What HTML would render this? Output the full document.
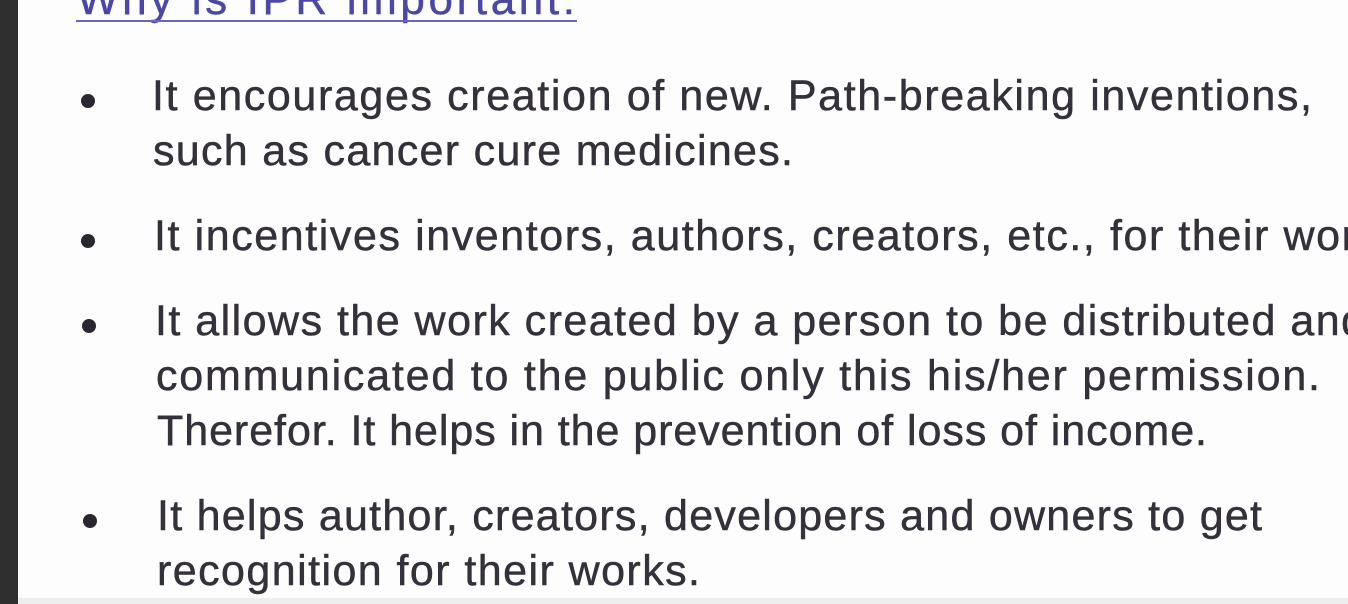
<!DOCTYPE html>
<html><head><meta charset="utf-8"><style>
html,body{margin:0;padding:0;width:1348px;height:604px;overflow:hidden;background:#fff}
svg{display:block}
text{font-family:"Liberation Sans",sans-serif;fill:#35313b;stroke:#35313b;stroke-width:0.5}
</style></head><body>
<svg width="1348" height="604">
<rect x="0" y="0" width="1348" height="604" fill="#fdfdfd"/>
<rect x="0" y="0" width="18" height="604" fill="#2f2f2f"/>
<rect x="18" y="598" width="1330" height="6" fill="#eeeeee"/>
<g>
<text x="77" y="14" font-size="44" style="fill:#4b47a6;stroke:#4b47a6" textLength="498" lengthAdjust="spacing">Why is IPR important:</text>
<rect x="76" y="20" width="501" height="2" fill="#6a66c0"/>
</g>
<g fill="#2b2730">
<circle cx="88" cy="101" r="7"/>
<circle cx="88" cy="241" r="7"/>
<circle cx="89" cy="326" r="7"/>
<circle cx="90" cy="521" r="7"/>
</g>
<g font-size="43">
<text x="152" y="110" textLength="1160" lengthAdjust="spacing">It encourages creation of new. Path-breaking inventions,</text>
<text x="153" y="165" textLength="640" lengthAdjust="spacing">such as cancer cure medicines.</text>
<text x="154" y="250" textLength="1225" lengthAdjust="spacing">It incentives inventors, authors, creators, etc., for their work</text>
<text x="155" y="335" textLength="1210" lengthAdjust="spacing">It allows the work created by a person to be distributed and</text>
<text x="156" y="390" textLength="1164" lengthAdjust="spacing">communicated to the public only this his/her permission.</text>
<text x="157" y="445" textLength="1050" lengthAdjust="spacing">Therefor. It helps in the prevention of loss of income.</text>
<text x="157" y="530" textLength="1105" lengthAdjust="spacing">It helps author, creators, developers and owners to get</text>
<text x="157" y="585" textLength="543" lengthAdjust="spacing">recognition for their works.</text>
</g>
</svg>
</body></html>
